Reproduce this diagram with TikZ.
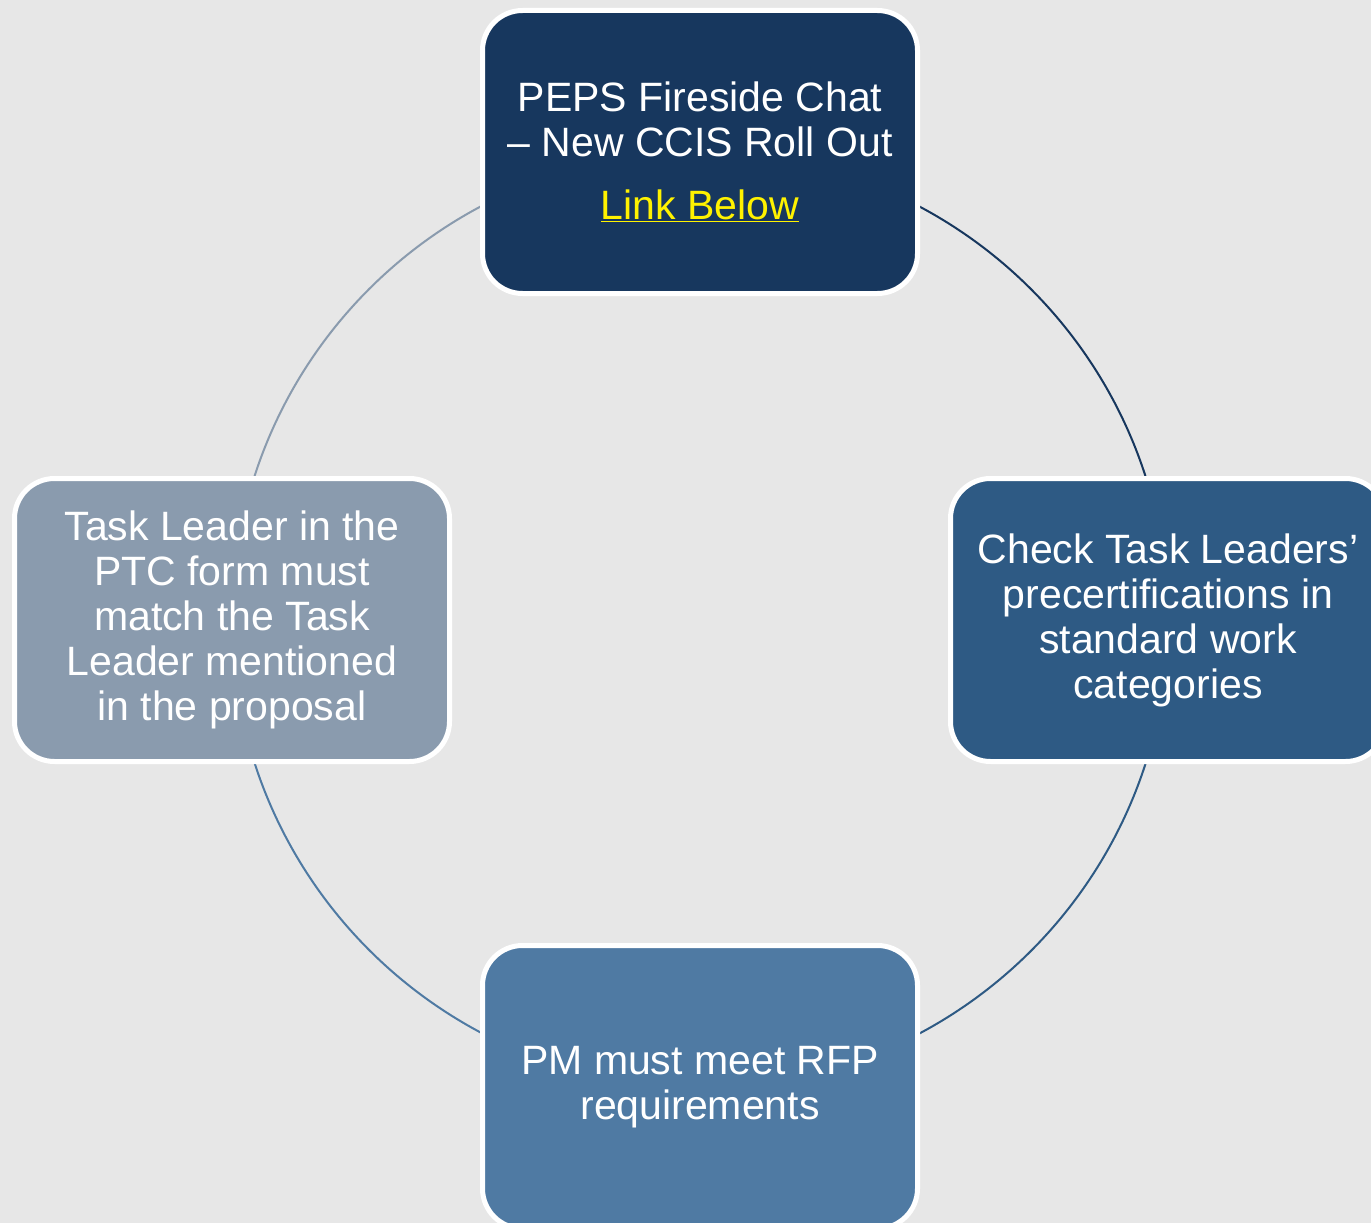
\documentclass[tikz,border=0pt]{standalone}
\usepackage{fontspec}
\setmainfont{Liberation Sans}
\usepackage{xcolor}
\usetikzlibrary{backgrounds}
\definecolor{navy}{HTML}{17375E}
\definecolor{midblue}{HTML}{2E5A84}
\definecolor{steel}{HTML}{4F7AA3}
\definecolor{slate}{HTML}{8A9BAE}
\definecolor{paper}{HTML}{E7E7E7}

\begin{document}
\begin{tikzpicture}[x=1pt,y=-1pt,
		main node/.style={rectangle,rounded corners=40pt,draw=white,line width=5pt,minimum width=435pt,minimum height=283pt,inner sep=0pt,align=center,text=white,font=\fontsize{41}{45}\selectfont},
		cycle line/.style={line width=2pt}]
		
		\useasboundingbox (0,0) rectangle (1371,1223);
		
		\node[main node,fill=navy] (peps) at (700,152) {PEPS Fireside Chat\\ – New CCIS Roll Out\\[18pt] \textcolor{yellow}{\underline{Link Below}}};
		\node[main node,fill=midblue] (check) at (1168,620) {Check Task Leaders’\\ precertifications in\\ standard work\\ categories};
		\node[main node,fill=steel] (pm) at (700,1087) {PM must meet RFP\\ requirements};
		\node[main node,fill=slate] (task) at (232,620) {Task Leader in the\\ PTC form must\\ match the Task\\ Leader mentioned\\ in the proposal};
		
		
		\begin{scope}[on background layer]
		\fill[paper] (0,0) rectangle (1371,1223);
		\draw[cycle line,navy] (peps.center) arc[start angle=90,end angle=0,radius=468pt];
		\draw[cycle line,midblue] (check.center) arc[start angle=0,end angle=-90,radius=468pt];
		\draw[cycle line,steel] (pm.center) arc[start angle=270,end angle=180,radius=468pt];
		\draw[cycle line,slate] (task.center) arc[start angle=180,end angle=90,radius=468pt];
		\end{scope}
		\end{tikzpicture}
\end{document}
